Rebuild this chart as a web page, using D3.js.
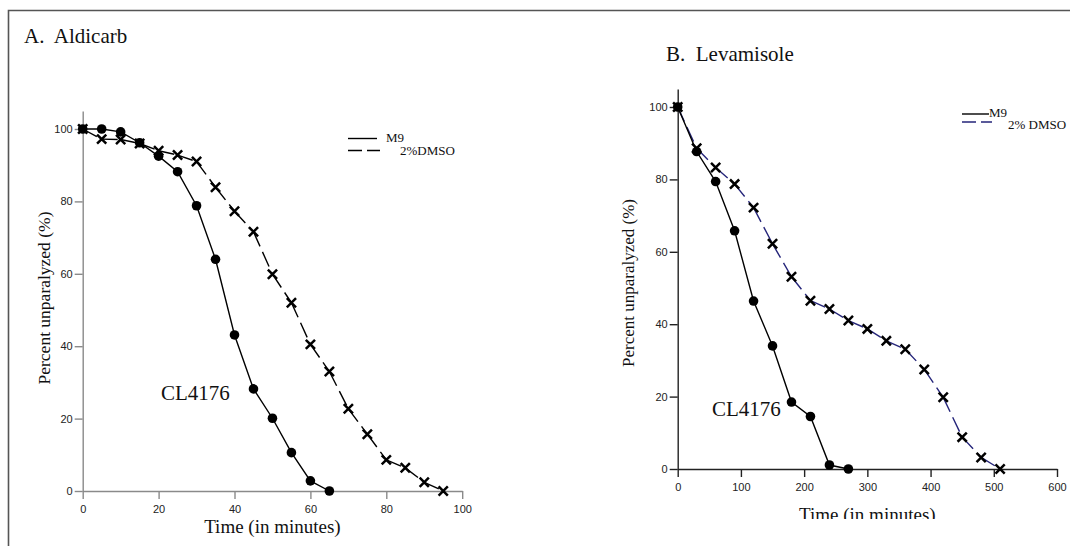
<html>
<head>
<meta charset="utf-8">
<title>Paralysis assays</title>
<style>
    body { margin: 0; background: #fff; }
    svg { display: block; }
    .tick text { font-family: "Liberation Sans", Arial, sans-serif; font-size: 11px; fill: #222; }
    .serif { font-family: "Liberation Serif", "Times New Roman", serif; fill: #111; }
</style>
</head>
<body>
<script src="https://d3js.org/d3.v7.min.js"></script>
<script>
    // Panel A - Aldicarb (time in minutes, % unparalyzed)
    const timeA = [0, 5, 10, 15, 20, 25, 30, 35, 40, 45, 50, 55, 60, 65, 70, 75, 80, 85, 90, 95];
    const m9A = [100, 100, 99.2, 96.2, 92.5, 88.2, 78.8, 64.0, 43.1, 28.2, 20.1, 10.6, 2.8, 0];
    const dmsoA = [100, 97.2, 97.1, 96.0, 94.0, 92.8, 91.0, 83.9, 77.3, 71.6, 59.9, 52.0, 40.5, 33.0, 22.7, 15.7, 8.6, 6.4, 2.4, 0];
    const xTicksA = [0, 20, 40, 60, 80, 100];

    // Panel B - Levamisole
    const timeB = [0, 30, 60, 90, 120, 150, 180, 210, 240, 270, 300, 330, 360, 390, 420, 450, 480, 510];
    const m9B = [100, 87.7, 79.4, 65.8, 46.4, 34.0, 18.5, 14.5, 1.1, 0];
    const dmsoB = [100, 88.6, 83.3, 78.7, 72.2, 62.2, 53.1, 46.5, 44.2, 41.0, 38.7, 35.4, 33.1, 27.5, 19.8, 8.8, 3.2, 0];
    const xTicksB = [0, 100, 200, 300, 400, 500, 600];

    const yTicks = [0, 20, 40, 60, 80, 100];

    const width = 1070, height = 546;
    const svg = d3.select("body").append("svg")
        .attr("width", width)
        .attr("height", height);

    // outer frame (top and left edges only)
    svg.append("path")
        .attr("d", "M8.5,546 L8.5,10.5 L1070,10.5")
        .attr("fill", "none")
        .attr("stroke", "#555")
        .attr("stroke-width", 1.6);

    function panel(cfg) {
        const g = svg.append("g");
        const x = d3.scaleLinear().domain(cfg.xDomain).range([cfg.left, cfg.right]);
        const y = d3.scaleLinear().domain([0, 105]).range([cfg.bottom, cfg.bottom - 105 * 3.62]);

        // axes
        const xAxis = g.append("g")
            .attr("transform", "translate(0," + cfg.bottom + ")")
            .call(d3.axisBottom(x).tickValues(cfg.xTicks).tickSize(8).tickSizeOuter(0).tickPadding(6));
        const yAxis = g.append("g")
            .attr("transform", "translate(" + cfg.left + ",0)")
            .call(d3.axisLeft(y).tickValues(yTicks).tickSize(8).tickSizeOuter(0).tickPadding(2));
        [xAxis, yAxis].forEach(a => {
            a.selectAll("path, line").attr("stroke", cfg.axisColor).attr("stroke-width", 1.4);
        });

        const line = d3.line().x(d => x(d[0])).y(d => y(d[1]));

        // 2% DMSO: dashed, each segment drawn on its own
        const dPts = cfg.dmso.map((v, i) => [cfg.time[i], v]);
        g.append("g").selectAll("path")
            .data(d3.pairs(dPts))
            .join("path")
            .attr("d", d => line(d))
            .attr("fill", "none")
            .attr("stroke", cfg.dmsoColor)
            .attr("stroke-width", 1.4)
            .attr("stroke-dasharray", "16,6");

        // M9: solid
        const mPts = cfg.m9.map((v, i) => [cfg.time[i], v]);
        g.append("path")
            .attr("d", line(mPts))
            .attr("fill", "none")
            .attr("stroke", "#000")
            .attr("stroke-width", 1.4);

        g.append("g").selectAll("circle")
            .data(mPts)
            .join("circle")
            .attr("cx", d => x(d[0]))
            .attr("cy", d => y(d[1]))
            .attr("r", 4.8)
            .attr("fill", "#000");

        const s = 4.6;
        g.append("g").selectAll("path")
            .data(dPts)
            .join("path")
            .attr("d", d => {
                const cx = x(d[0]), cy = y(d[1]);
                return `M${cx - s},${cy - s}L${cx + s},${cy + s}M${cx - s},${cy + s}L${cx + s},${cy - s}`;
            })
            .attr("stroke", "#000")
            .attr("stroke-width", 2.5)
            .attr("fill", "none");

        // titles and labels
        g.append("text").attr("class", "serif")
            .attr("x", cfg.titleX).attr("y", cfg.titleY)
            .attr("font-size", 21)
            .style("white-space", "pre")
            .text(cfg.title);

        g.append("text").attr("class", "serif")
            .attr("transform", `translate(${cfg.yLabelX},${cfg.yLabelY}) rotate(-90)`)
            .attr("text-anchor", "middle")
            .attr("font-size", cfg.yLabelSize)
            .text("Percent unparalyzed (%)");

        const xl = g.append("text").attr("class", "serif")
            .attr("x", (cfg.left + cfg.right) / 2 + cfg.xLabelShift)
            .attr("y", cfg.xLabelY)
            .attr("text-anchor", "middle")
            .attr("font-size", 19)
            .text("Time (in minutes)");
        if (cfg.clipId) {
            svg.append("clipPath").attr("id", cfg.clipId)
                .append("rect").attr("x", 0).attr("y", 0).attr("width", width).attr("height", 519);
            xl.attr("clip-path", `url(#${cfg.clipId})`);
        }

        g.append("text").attr("class", "serif")
            .attr("x", cfg.strainX).attr("y", cfg.strainY)
            .attr("font-size", 21)
            .text("CL4176");

        // legend
        const L = cfg.legend;
        g.append("line").attr("x1", L.x1).attr("x2", L.x2).attr("y1", L.y1).attr("y2", L.y1)
            .attr("stroke", "#000").attr("stroke-width", 1.4);
        g.append("line").attr("x1", L.x1).attr("x2", L.x2 + 3).attr("y1", L.y2).attr("y2", L.y2)
            .attr("stroke", cfg.dmsoColor).attr("stroke-width", 1.4).attr("stroke-dasharray", "14,5");
        g.append("text").attr("class", "serif").attr("font-size", 13)
            .attr("x", L.t1x).attr("y", L.t1y).text("M9");
        g.append("text").attr("class", "serif").attr("font-size", 13)
            .style("white-space", "pre")
            .attr("x", L.t2x).attr("y", L.t2y).text(L.dmsoText);
    }

    panel({
        time: timeA, m9: m9A, dmso: dmsoA, xTicks: xTicksA,
        xDomain: [0, 100], left: 82.7, right: 462.2, bottom: 491,
        axisColor: "#8a8a8a", dmsoColor: "#000",
        title: "A.  Aldicarb", titleX: 24, titleY: 43,
        yLabelX: 50, yLabelY: 298, yLabelSize: 17.5, xLabelY: 533, xLabelShift: 0,
        strainX: 161, strainY: 400,
        legend: { x1: 348, x2: 377, y1: 138.5, y2: 150.5, t1x: 386, t1y: 142, t2x: 400, t2y: 155, dmsoText: "2%DMSO" }
    });

    panel({
        time: timeB, m9: m9B, dmso: dmsoB, xTicks: xTicksB,
        xDomain: [0, 600], left: 677.7, right: 1057, bottom: 469,
        axisColor: "#222", dmsoColor: "#25257a",
        title: "B.  Levamisole", titleX: 666, titleY: 61,
        yLabelX: 634, yLabelY: 283, yLabelSize: 17, xLabelY: 521, xLabelShift: 0, clipId: "clipB",
        strainX: 712, strainY: 416,
        legend: { x1: 962, x2: 989, y1: 114, y2: 122, t1x: 989, t1y: 117, t2x: 1008, t2y: 129, dmsoText: "2% DMSO" }
    });
</script>
</body>
</html>
